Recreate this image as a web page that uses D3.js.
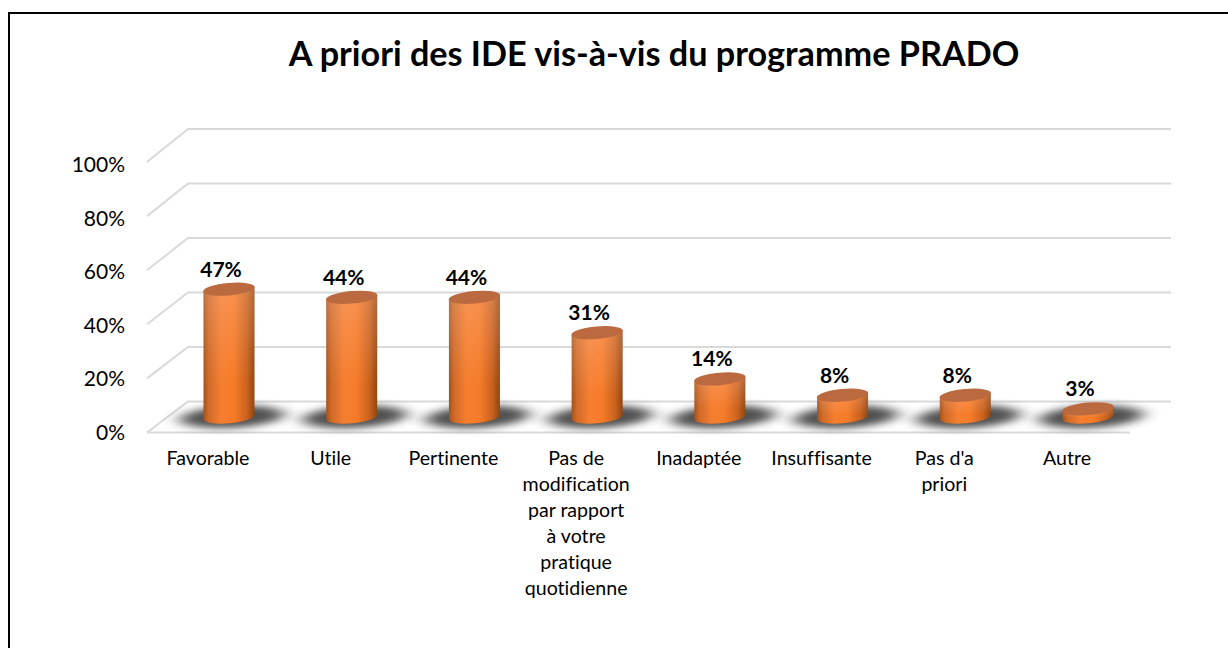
<!DOCTYPE html>
<html><head><meta charset="utf-8">
<script src="https://cdn.jsdelivr.net/npm/d3@7"></script>
<style>html,body{margin:0;background:#fff}svg{display:block}text{font-family:Lato,"Noto Sans",sans-serif;fill:#000}</style>
</head><body><div id="c"></div>
<script>
const categories=[["Favorable"],["Utile"],["Pertinente"],["Pas de","modification","par rapport","à votre","pratique","quotidienne"],["Inadaptée"],["Insuffisante"],["Pas d'a","priori"],["Autre"]];
const values=[47,44,44,31,14,8,8,3];
const ticks=[0,20,40,60,80,100];
const title="A priori des IDE vis-à-vis du programme PRADO";
const W=1228,H=648;
const svg=d3.select("#c").append("svg").attr("width",W).attr("height",H);
const defs=svg.append("defs");
const bodyG=defs.append("linearGradient").attr("id","body");
[[0,"#a3521c"],[.1,"#cf6a28"],[.35,"#f57f30"],[.6,"#f57b28"],[.85,"#c9621e"],[1,"#8f4612"]].forEach(d=>bodyG.append("stop").attr("offset",d[0]).attr("stop-color",d[1]));
const hl=defs.append("linearGradient").attr("id","hl").attr("x1",0).attr("x2",0).attr("y1",0).attr("y2",1);
hl.append("stop").attr("offset",0).attr("stop-color","#ffc8b0").attr("stop-opacity",.28);
hl.append("stop").attr("offset",.7).attr("stop-color","#ffc8b0").attr("stop-opacity",0);
defs.append("filter").attr("id","blur").attr("filterUnits","userSpaceOnUse").attr("x",0).attr("y",360).attr("width",W).attr("height",110).append("feGaussianBlur").attr("stdDeviation","9 3.5");

svg.append("path").attr("d",d3.line()([[W,13],[9,13],[9,H]])).attr("fill","none").attr("stroke","#000").attr("stroke-width",2);
svg.append("text").attr("x",654).attr("y",66).attr("text-anchor","middle").attr("font-size",34.2).attr("font-weight",700).text(title);

const yFront=d3.scaleLinear().domain([0,100]).range([432.5,162]);
const yBack=d3.scaleLinear().domain([0,100]).range([401.5,129]);
const yLabel=d3.scaleLinear().domain([0,100]).range([439.5,172]);
const x0=188,x1=1171,xf0=147,xf1=1130;
const grid=svg.append("g").attr("fill","none").attr("stroke","#d9d9d9").attr("stroke-width",2);
ticks.forEach(t=>{
  grid.append("path").attr("d",d3.line()([[xf0,yFront(t)],[x0,yBack(t)],[x1,yBack(t)]]));
});
grid.append("path").attr("d",d3.line()([[xf0,yFront(0)],[xf1,yFront(0)]]));
svg.append("g").selectAll("text").data(ticks).join("text").attr("x",125).attr("y",t=>yLabel(t)).attr("text-anchor","end").attr("font-size",21).text(t=>t+"%");

const xs=d3.scalePoint().domain(d3.range(categories.length)).range([229,1088]);
const hScale=d3.scaleLinear().domain([0,100]).range([0,272]);
const baseY=417,rx=25.5,ry=6.3,tilt=-5;
const g=svg.append("g");
values.forEach((v,i)=>{
  const cx=xs(i),top=baseY-hScale(v);
  const b=g.append("g");
  b.append("ellipse").attr("cx",cx+3).attr("cy",baseY).attr("rx",52).attr("ry",11).attr("transform",`rotate(-3 ${cx} ${baseY})`).attr("fill","#3c3c3c").attr("opacity",.9).attr("filter","url(#blur)");
  const d=`M${cx-rx},${top+2.2}L${cx-rx},${baseY+2.2}A${rx},${ry} ${tilt} 0 0 ${cx+rx},${baseY-2.2}L${cx+rx},${top-2.2}Z`;
  b.append("path").attr("d",d).attr("fill","url(#body)");
  b.append("path").attr("d",d).attr("fill","url(#hl)");
  b.append("ellipse").attr("cx",cx).attr("cy",top).attr("rx",rx+.3).attr("ry",ry).attr("transform",`rotate(${tilt} ${cx} ${top})`).attr("fill","#bb6a3f");
  svg.append("text").attr("x",cx-8).attr("y",top-12.5).attr("text-anchor","middle").attr("font-size",21).attr("font-weight",700).text(v+"%");
  const t=svg.append("text").attr("text-anchor","middle").attr("font-size",19.6).style("font-variant-ligatures","none");
  categories[i].forEach((l,k)=>t.append("tspan").attr("x",cx-21).attr("y",465+k*26).text(l));
});
</script></body></html>
